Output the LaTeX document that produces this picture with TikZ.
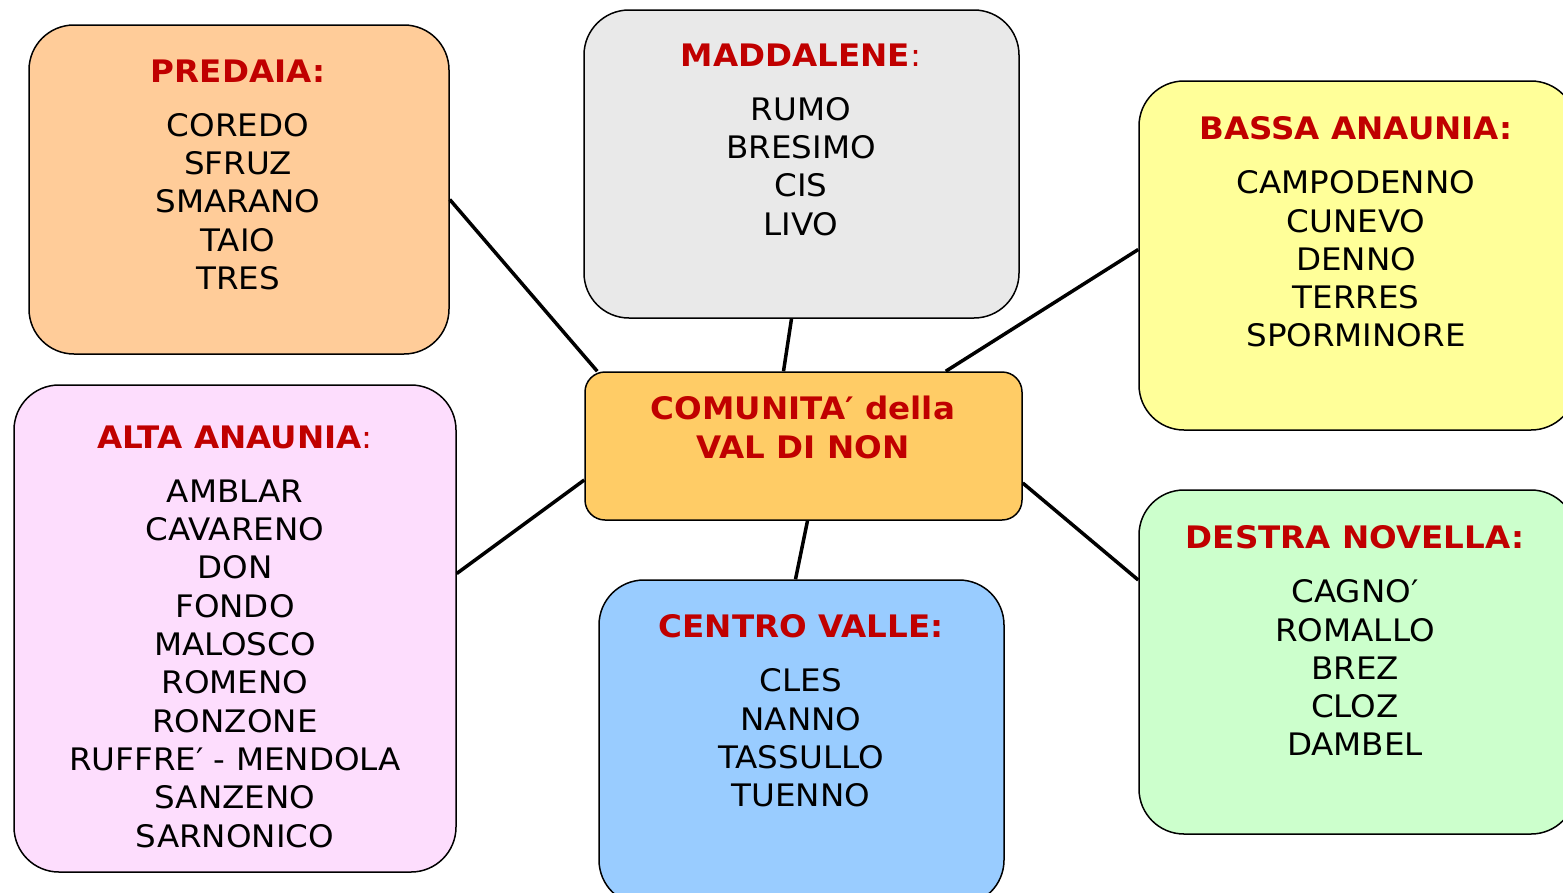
\documentclass[tikz,border=0pt]{standalone}
\usepackage{fontspec}
\setmainfont[FakeStretch=1.05]{DejaVu Sans}
\usepackage{tikz}
\usetikzlibrary{positioning}

\definecolor{titlered}{HTML}{C00000}
\definecolor{peach}{HTML}{FFCC99}
\definecolor{lightgrey}{HTML}{E9E9E9}
\definecolor{paleyellow}{HTML}{FFFF99}
\definecolor{palepink}{HTML}{FDDDFD}
\definecolor{paleorange}{HTML}{FFCC66}
\definecolor{paleblue}{HTML}{99CCFF}
\definecolor{palegreen}{HTML}{CCFFCC}

\newcommand{\areatitle}[1]{{\color{titlered}\bfseries #1}}

\begin{document}
\begin{tikzpicture}[x=1pt, y=-1pt,
  area/.style={draw=black, line width=1.5pt, rounded corners=45pt, rectangle},
  areatext/.style={anchor=north, align=center, inner sep=0pt,
    font=\fontsize{31}{38.3}\selectfont},
  link/.style={draw=black, line width=3.5pt}]

  \useasboundingbox (0,0) rectangle (1563,892);
  \begin{scope}
  \clip (0,0) rectangle (1563,892);

  %% boxes
  \node[area, fill=peach, minimum width=420pt, minimum height=329pt] (predaia) at (239,189.5) {};
  \node[area, fill=lightgrey, minimum width=435pt, minimum height=308pt] (maddalene) at (801.5,164) {};
  \node[area, fill=paleyellow, minimum width=437pt, minimum height=349pt] (bassa) at (1357.5,255.5) {};
  \node[area, fill=palepink, minimum width=442pt, minimum height=487pt] (alta) at (235,628.5) {};
  \node[area, fill=paleorange, rounded corners=20pt, minimum width=437pt, minimum height=148pt] (comunita) at (803.5,446) {};
  \node[area, fill=paleblue, minimum width=405pt, minimum height=325pt] (centro) at (801.5,742.5) {};
  \node[area, fill=palegreen, minimum width=437pt, minimum height=344pt] (destra) at (1357.5,662) {};

  %% texts
  \node[areatext] (predaia-txt) at (238,59.5) {\areatitle{PREDAIA:}\\[15.7pt]
    COREDO\\ SFRUZ\\ SMARANO\\ TAIO\\ TRES};
  \node[areatext] (maddalene-txt) at (801,43.5) {\areatitle{MADDALENE}{\color{titlered}:}\\[15.7pt]
    RUMO\\ BRESIMO\\ CIS\\ LIVO};
  \node[areatext] (bassa-txt) at (1356,116.5) {\areatitle{BASSA ANAUNIA:}\\[15.7pt]
    CAMPODENNO\\ CUNEVO\\ DENNO\\ TERRES\\ SPORMINORE};
  \node[areatext] (alta-txt) at (235,425.5) {\areatitle{ALTA ANAUNIA}{\color{titlered}:}\\[15.7pt]
    AMBLAR\\ CAVARENO\\ DON\\ FONDO\\ MALOSCO\\ ROMENO\\ RONZONE\\
    RUFFRE′ - MENDOLA\\ SANZENO\\ SARNONICO};
  \node[areatext] (comunita-txt) at (803,396) {\areatitle{COMUNITA′ della}\\
    \areatitle{VAL DI NON}};
  \node[areatext] (centro-txt) at (801,614.5) {\areatitle{CENTRO VALLE:}\\[15.7pt]
    CLES\\ NANNO\\ TASSULLO\\ TUENNO};
  \node[areatext] (destra-txt) at (1355,525.5) {\areatitle{DESTRA NOVELLA:}\\[15.7pt]
    CAGNO′\\ ROMALLO\\ BREZ\\ CLOZ\\ DAMBEL};

  %% links to the centre
  \path[link]
    ([yshift=-10pt]predaia.east) -- ([xshift=13pt]comunita.north west)
    ([xshift=-10pt]maddalene.south) -- ([xshift=-20pt]comunita.north)
    ([yshift=6pt]bassa.west) -- ([xshift=-77pt]comunita.north east)
    ([yshift=55pt]alta.east) -- ([yshift=-34pt]comunita.west)
    ([xshift=-6pt]centro.north) -- ([xshift=4pt]comunita.south)
    ([yshift=82pt]destra.west) -- ([yshift=-37pt]comunita.east);
  \end{scope}
\end{tikzpicture}
\end{document}
